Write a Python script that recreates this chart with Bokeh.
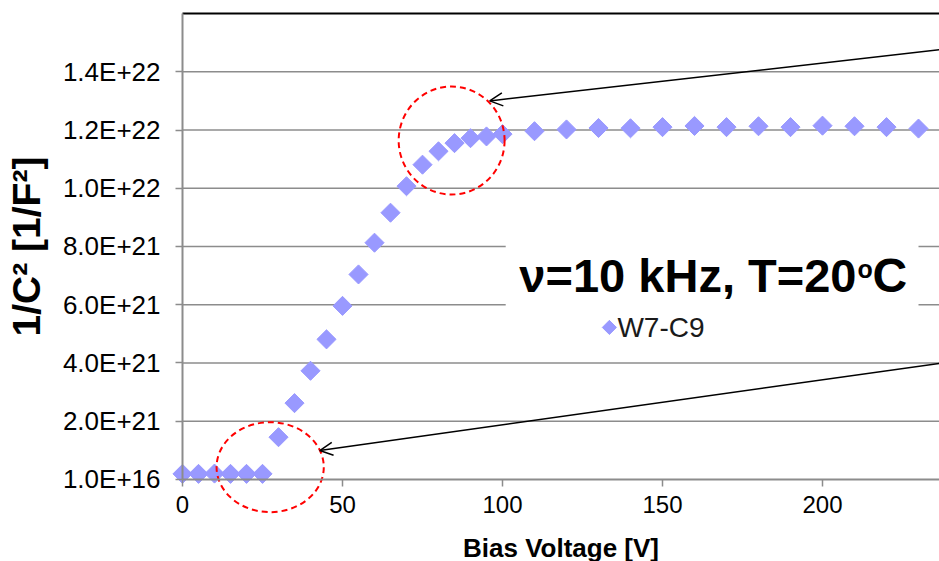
import numpy as np
from bokeh.plotting import figure
from bokeh.models import FixedTicker, Arrow, OpenHead, Label
from bokeh.embed import file_html
from bokeh.resources import INLINE

# C-V scan of sample W7-C9 at 10 kHz, 20 C
bias_v = [0, 5, 10, 15, 20, 25, 30, 35, 40, 45, 50, 55, 60, 65, 70, 75, 80, 85,
          90, 95, 100, 110, 120, 130, 140, 150, 160, 170, 180, 190, 200, 210,
          220, 230, 240]
inv_c2 = [1.9e20, 1.9e20, 2.0e20, 1.9e20, 1.9e20, 1.9e20, 1.45e21, 2.62e21,
          3.73e21, 4.81e21, 5.96e21, 7.04e21, 8.13e21, 9.16e21, 1.007e22,
          1.081e22, 1.127e22, 1.155e22, 1.172e22, 1.178e22, 1.186e22,
          1.196e22, 1.202e22, 1.207e22, 1.206e22, 1.210e22, 1.214e22,
          1.210e22, 1.213e22, 1.210e22, 1.215e22, 1.213e22, 1.210e22,
          1.205e22, 1.208e22]
series_name = "W7-C9"

x_ticks = [0, 50, 100, 150, 200]
y_ticks = [1e16, 2e21, 4e21, 6e21, 8e21, 1.0e22, 1.2e22, 1.4e22]
y_tick_labels = ["1.0E+16", "2.0E+21", "4.0E+21", "6.0E+21", "8.0E+21",
                 "1.0E+22", "1.2E+22", "1.4E+22"]

FONT = "Liberation Sans"
MARKER = "#9999ff"
GRID = "#8c8c8c"
X_MAX = 236.56          # right edge of the visible plot area
Y_TOP = 1.6e22          # top of the plot area

# The frame fills the whole canvas and both axes are pinned at the origin,
# so the callout circle below the x axis is drawn in full.
p = figure(width=939, height=561, x_range=(-56.875, X_MAX),
           y_range=(-2.820e21, 1.6449e22),
           output_backend="svg", toolbar_location=None,
           min_border_left=0, min_border_right=0, min_border_top=0,
           min_border_bottom=0)
p.outline_line_color = None
p.background_fill_color = "white"
p.border_fill_color = "white"
p.grid.grid_line_color = None

# axes
p.xaxis.ticker = FixedTicker(ticks=x_ticks)
p.xaxis.fixed_location = 0
p.xaxis.bounds = (0, X_MAX)
p.yaxis.ticker = FixedTicker(ticks=y_ticks)
p.yaxis.fixed_location = 0
p.yaxis.bounds = (0, Y_TOP)
p.yaxis.major_label_overrides = dict(zip(y_ticks, y_tick_labels))
for ax in (p.xaxis, p.yaxis):
    ax.axis_line_color = GRID
    ax.axis_line_width = 2
    ax.major_tick_line_color = GRID
    ax.major_tick_line_width = 1.5
    ax.major_tick_out = 7
    ax.major_tick_in = 0
    ax.minor_tick_line_color = None
    ax.major_label_text_font = FONT
    ax.major_label_text_color = "black"
    ax.axis_label_text_font = FONT
    ax.axis_label_text_font_style = "bold"
    ax.axis_label_text_color = "black"

p.yaxis.major_label_text_font_size = "26px"
p.yaxis.major_label_standoff = 15
p.yaxis.axis_label = "1/C² [1/F²]"
p.yaxis.axis_label_text_font_size = "39px"
p.yaxis.axis_label_standoff = 12

p.xaxis.major_label_text_font_size = "24px"
p.xaxis.major_label_standoff = 10
p.xaxis.axis_label = "Bias Voltage [V]"
p.xaxis.axis_label_text_font_size = "26px"
p.xaxis.axis_label_standoff = 16

# horizontal gridlines across the plot area only
grid_y = y_ticks[1:]
p.segment(x0=[0] * len(grid_y), y0=grid_y, x1=[X_MAX + 5] * len(grid_y),
          y1=grid_y, line_color=GRID, line_width=1.5)

# black border along the top of the plot area
p.segment(x0=[0], y0=[Y_TOP], x1=[X_MAX + 5], y1=[Y_TOP], line_color="black",
          line_width=2)

# white panel behind the condition label and legend
p.quad(left=[101.0], right=[230.0], bottom=[4.3e21], top=[9.9e21],
       fill_color="white", line_color=None)

# data
p.scatter(bias_v, inv_c2, marker="square", angle=np.pi / 4, size=13.5,
          fill_color=MARKER, line_color=MARKER)

# dashed circles marking the two kinks of the curve
p.ellipse(x=[84.1, 27.4], y=[1.164e22, 4.2e20], width=[33.1, 33.5],
          height=[3.71e21, 3.09e21], fill_color=None, line_color="red",
          line_width=2, line_dash="6 4")

# callout arrows
for xs_, ys_, xe, ye in [(240.0, 1.480e22, 96.0, 1.300e22),
                         (240.0, 4.04e21, 42.9, 9.9e20)]:
    p.add_layout(Arrow(end=OpenHead(size=13, line_width=1.5, line_color="black"),
                       x_start=xs_, y_start=ys_, x_end=xe, y_end=ye,
                       line_width=1.5, line_color="black"))

# measurement conditions
p.add_layout(Label(x=210.6, y=7.0e21, text="ν=10 kHz, T=20", text_font=FONT,
                   text_font_style="bold", text_font_size="47px",
                   text_color="black", text_align="right",
                   text_baseline="alphabetic"))
p.add_layout(Label(x=210.9, y=7.21e21, text="o", text_font=FONT,
                   text_font_style="bold", text_font_size="25px",
                   text_color="black", text_align="left",
                   text_baseline="alphabetic"))
p.add_layout(Label(x=215.6, y=7.0e21, text="C", text_font=FONT,
                   text_font_style="bold", text_font_size="48px",
                   text_color="black", text_align="left",
                   text_baseline="alphabetic"))

# legend entry
p.scatter([133.4], [5.22e21], marker="square", angle=np.pi / 4, size=10,
          fill_color=MARKER, line_color=MARKER)
p.add_layout(Label(x=135.9, y=5.22e21, text=series_name, text_font=FONT,
                   text_font_size="28px", text_color="#1a1a1a",
                   text_align="left", text_baseline="middle"))

open("out.html", "w").write(file_html(p, INLINE))
